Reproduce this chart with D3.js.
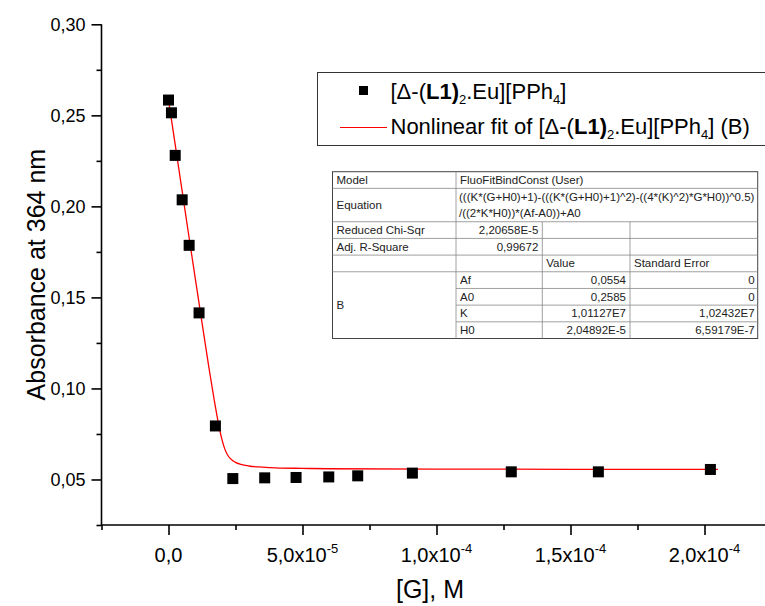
<!DOCTYPE html>
<html><head><meta charset="utf-8">
<script src="https://cdn.jsdelivr.net/npm/d3@7"></script>
<style>
html,body{margin:0;padding:0;background:#fff;}
svg{display:block;font-family:"Liberation Sans",Arial,sans-serif;}
</style></head>
<body>
<svg id="chart" width="765" height="606"></svg>
<script>
// ---- data ----
const gConc = [0, 1.1e-6, 2.5e-6, 5.1e-6, 7.7e-6, 11.4e-6, 17.5e-6, 24.0e-6, 35.9e-6, 47.6e-6, 59.8e-6, 70.6e-6, 91.0e-6, 127.9e-6, 160.4e-6, 202.2e-6];
const absorbance = [0.2584, 0.2514, 0.2280, 0.2036, 0.1786, 0.1415, 0.0794, 0.0505, 0.0509, 0.0511, 0.0514, 0.0520, 0.0535, 0.0542, 0.0542, 0.0555];
const fitConc = [0, 2.5e-6, 5e-6, 7.5e-6, 10e-6, 12.5e-6, 15e-6, 17e-6, 18e-6, 19e-6, 20e-6, 21e-6, 22e-6, 23e-6, 25e-6, 27e-6, 30e-6, 35e-6, 40e-6, 50e-6, 60e-6, 100e-6, 150e-6, 205e-6];
const fitAbs = [0.2585, 0.2339, 0.2093, 0.1847, 0.1603, 0.1361, 0.1123, 0.0941, 0.0857, 0.0780, 0.0716, 0.0668, 0.0636, 0.0616, 0.0594, 0.0583, 0.0574, 0.0568, 0.0564, 0.0561, 0.0559, 0.0557, 0.0556, 0.0555];
const yTickValues = [0.05, 0.10, 0.15, 0.20, 0.25, 0.30];
const yTickLabels = ["0,05", "0,10", "0,15", "0,20", "0,25", "0,30"];
const yMinorValues = [0.025, 0.075, 0.125, 0.175, 0.225, 0.275];
const xTickValues = [0, 5e-5, 1e-4, 1.5e-4, 2e-4];
const xTickMantissa = ["0,0", "5,0x10", "1,0x10", "1,5x10", "2,0x10"];
const xTickExponent = ["", "-5", "-4", "-4", "-4"];
const xMinorValues = [-2.5e-5, 2.5e-5, 7.5e-5, 1.25e-4, 1.75e-4, 2.25e-4];
const yTitle = "Absorbance at 364 nm";
const xTitle = "[G], M";
const tableLabels = ["Model", "Equation", "Reduced Chi-Sqr", "Adj. R-Square", "B"];
const tableModel = "FluoFitBindConst (User)";
const tableEquation = ["(((K*(G+H0)+1)-(((K*(G+H0)+1)^2)-((4*(K)^2)*G*H0))^0.5)", "/((2*K*H0))*(Af-A0))+A0"];
const tableStats = ["2,20658E-5", "0,99672"];
const tableHeader = ["Value", "Standard Error"];
const paramNames = ["Af", "A0", "K", "H0"];
const paramValues = ["0,0554", "0,2585", "1,01127E7", "2,04892E-5"];
const paramErrors = ["0", "0", "1,02432E7", "6,59179E-7"];

// ---- drawing ----
const svg = d3.select("#chart");
const x = d3.scaleLinear().domain([-2.5e-5, 2.25e-4]).range([101.5, 771.5]);
const y = d3.scaleLinear().domain([0.025, 0.30]).range([525, 24.3]);

// axes
const axisW = 1.6;
const yMajor = svg.append("g").attr("transform", "translate(101.5,0)")
  .call(d3.axisLeft(y).tickValues(yTickValues).tickSize(10).tickPadding(6)
    .tickFormat((d, i) => yTickLabels[i]));
const yMinor = svg.append("g").attr("transform", "translate(101.5,0)")
  .call(d3.axisLeft(y).tickValues(yMinorValues).tickSize(5).tickFormat(""));
yMinor.select(".domain").remove();
yMajor.select(".domain").attr("d", `M0,${y(0.30)}V${y(0.025)}`);

const xMajor = svg.append("g").attr("transform", "translate(0,525)")
  .call(d3.axisBottom(x).tickValues(xTickValues).tickSize(10).tickFormat(""));
const xMinor = svg.append("g").attr("transform", "translate(0,525)")
  .call(d3.axisBottom(x).tickValues(xMinorValues).tickSize(5).tickFormat(""));
xMinor.select(".domain").remove();
xMajor.select(".domain").attr("d", `M${x(-2.5e-5)},0H${x(2.25e-4)}`);

svg.selectAll(".domain, .tick line").attr("stroke", "#000").attr("stroke-width", axisW);
yMajor.selectAll(".tick text").attr("font-size", 18).attr("fill", "#000")
  .attr("font-family", "Liberation Sans, Arial, sans-serif");

// x tick labels with superscripts
const xl = svg.append("g").attr("font-size", 20).attr("fill", "#000").attr("text-anchor", "middle");
xTickValues.forEach((v, i) => {
  const t = xl.append("text").attr("x", x(v)).attr("y", 562);
  t.append("tspan").text(xTickMantissa[i]);
  if (xTickExponent[i]) t.append("tspan").attr("font-size", 13).attr("dy", -9).text(xTickExponent[i]);
});

// axis titles
svg.append("text").attr("transform", `translate(45,${(y(0.30) + y(0.025)) / 2}) rotate(-90)`)
  .attr("text-anchor", "middle").attr("font-size", 25).text(yTitle);
svg.append("text").attr("x", 430).attr("y", 598).attr("text-anchor", "middle")
  .attr("font-size", 25).text(xTitle);

// fit curve
const line = d3.line().x((d, i) => x(fitConc[i])).y((d, i) => y(fitAbs[i])).curve(d3.curveMonotoneX);
svg.append("path").datum(fitAbs).attr("d", line).attr("fill", "none")
  .attr("stroke", "#ff0000").attr("stroke-width", 1.3);

// data points
const ms = 11;
svg.append("g").selectAll("rect").data(absorbance).join("rect")
  .attr("x", (d, i) => x(gConc[i]) - ms / 2).attr("y", d => y(d) - ms / 2)
  .attr("width", ms).attr("height", ms).attr("fill", "#000");

// legend
const lg = svg.append("g");
lg.append("rect").attr("x", 317.5).attr("y", 72.5).attr("width", 460).attr("height", 73)
  .attr("fill", "#fff").attr("stroke", "#333").attr("stroke-width", 1);
lg.append("rect").attr("x", 359).attr("y", 86).attr("width", 9).attr("height", 9).attr("fill", "#000");
lg.append("line").attr("x1", 340).attr("x2", 387).attr("y1", 127.5).attr("y2", 127.5)
  .attr("stroke", "#ff0000").attr("stroke-width", 1.2);
function legendLabel(gx, gy, prefix, suffix) {
  const t = lg.append("text").attr("x", gx).attr("y", gy).attr("font-size", 22);
  t.append("tspan").text(prefix + "[Δ-(");
  t.append("tspan").attr("font-weight", "bold").text("L1");
  t.append("tspan").attr("font-weight", "bold").text(")");
  t.append("tspan").attr("font-size", 13).attr("dy", 5).text("2");
  t.append("tspan").attr("dy", -5).text(".Eu][PPh");
  t.append("tspan").attr("font-size", 13).attr("dy", 5).text("4");
  t.append("tspan").attr("dy", -5).text("]" + suffix);
}
legendLabel(390.5, 99, "", "");
legendLabel(390.5, 134, "Nonlinear fit of ", " (B)");

// results table
const tb = svg.append("g").attr("font-size", 11.5).attr("fill", "#222");
const cx = [332.5, 456, 542.3, 630, 757.7];
const rh = 16.68;
const tTop = 171.7;
tb.append("rect").attr("x", cx[0]).attr("y", tTop).attr("width", cx[4] - cx[0]).attr("height", rh * 10)
  .attr("fill", "#fff").attr("stroke", "#444").attr("stroke-width", 1);
const gridC = "#888";
function hl(x1, x2, yy) { tb.append("line").attr("x1", x1).attr("x2", x2).attr("y1", yy).attr("y2", yy).attr("stroke", gridC).attr("stroke-width", 0.8); }
function vl(xx, y1, y2) { tb.append("line").attr("x1", xx).attr("x2", xx).attr("y1", y1).attr("y2", y2).attr("stroke", gridC).attr("stroke-width", 0.8); }
hl(cx[0], cx[4], tTop + rh);
hl(cx[0], cx[4], tTop + rh * 3);
hl(cx[0], cx[4], tTop + rh * 4);
hl(cx[0], cx[4], tTop + rh * 5);
hl(cx[0], cx[4], tTop + rh * 6);
for (let k = 7; k <= 9; k++) hl(cx[1], cx[4], tTop + rh * k);
vl(cx[1], tTop, tTop + rh * 10);
vl(cx[2], tTop + rh * 3, tTop + rh * 10);
vl(cx[3], tTop + rh * 3, tTop + rh * 10);
function cellText(xx, yy, s, anchor) {
  tb.append("text").attr("x", xx).attr("y", yy).attr("text-anchor", anchor || "start")
    .attr("dominant-baseline", "central").text(s);
}
cellText(cx[0] + 4, tTop + rh * 0.5, tableLabels[0]);
cellText(cx[0] + 4, tTop + rh * 2, tableLabels[1]);
cellText(cx[0] + 4, tTop + rh * 3.5, tableLabels[2]);
cellText(cx[0] + 4, tTop + rh * 4.5, tableLabels[3]);
cellText(cx[0] + 4, tTop + rh * 8, tableLabels[4]);
cellText(cx[1] + 4, tTop + rh * 0.5, tableModel);
cellText(cx[1] + 3, tTop + rh * 1.5, tableEquation[0]);
cellText(cx[1] + 3, tTop + rh * 2.5, tableEquation[1]);
cellText(cx[2] - 4, tTop + rh * 3.5, tableStats[0], "end");
cellText(cx[2] - 4, tTop + rh * 4.5, tableStats[1], "end");
cellText(cx[2] + 4, tTop + rh * 5.5, tableHeader[0]);
cellText(cx[3] + 4, tTop + rh * 5.5, tableHeader[1]);
paramNames.forEach((p, i) => {
  const yy = tTop + rh * (6.5 + i);
  cellText(cx[1] + 4, yy, p);
  cellText(cx[3] - 4, yy, paramValues[i], "end");
  cellText(cx[4] - 3, yy, paramErrors[i], "end");
});
</script>
</body></html>
